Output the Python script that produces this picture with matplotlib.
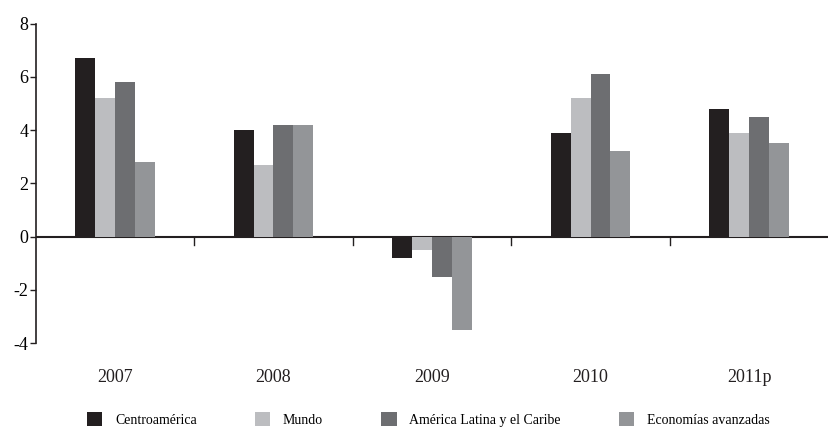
import numpy as np
import matplotlib.pyplot as plt
from matplotlib.patches import Patch

# Datos
anios = ["2007", "2008", "2009", "2010", "2011p"]
centroamerica = [6.7, 4.0, -0.8, 3.9, 4.8]
mundo = [5.2, 2.7, -0.5, 5.2, 3.9]
america_latina = [5.8, 4.2, -1.5, 6.1, 4.5]
economias_avanzadas = [2.8, 4.2, -3.5, 3.2, 3.5]

series = [centroamerica, mundo, america_latina, economias_avanzadas]
nombres = ["Centroamérica", "Mundo", "América Latina y el Caribe", "Economías avanzadas"]
colores = ["#231f20", "#bcbdc0", "#6d6e71", "#939598"]

plt.rcParams['font.family'] = ['Liberation Serif', 'DejaVu Serif']

fig = plt.figure(figsize=(8.3, 4.29), dpi=100)
ax = fig.add_axes([0.043, 0.2, 0.955, 0.745])

x = np.arange(len(anios))
ancho = 0.125
for i, (valores, color) in enumerate(zip(series, colores)):
    ax.bar(x + (i - 1.5) * ancho, valores, ancho, color=color, linewidth=0)

ax.set_xlim(-0.5, len(anios) - 0.5)
ax.set_ylim(-4, 8)
ax.set_yticks([-4, -2, 0, 2, 4, 6, 8])
ax.set_yticklabels(["-4", "-2", "0", "2", "4", "6", "8"], fontsize=13)
ax.tick_params(axis='y', length=4, width=1, pad=1, color="#231f20")

# Linea en cero con marcas entre categorias
ax.axhline(0, color="#231f20", linewidth=1.5, zorder=0)
ax.set_xticks([])
for b in x[:-1] + 0.5:
    ax.plot([b, b], [0, -0.3], color="#231f20", linewidth=1, clip_on=False)

for xi, etiqueta in zip(x, anios):
    ax.text(xi, -5.3, etiqueta, ha='center', va='center', fontsize=13, color="#231f20")

for lado in ['top', 'right', 'bottom']:
    ax.spines[lado].set_visible(False)
ax.spines['left'].set_linewidth(1.2)
ax.spines['left'].set_color("#231f20")

handles = [Patch(facecolor=c, edgecolor='none') for c in colores]
fig.legend(handles, nombres, loc='center', bbox_to_anchor=(0.516, 0.022), ncol=4,
           frameon=False, fontsize=10, handlelength=1.1, handleheight=1.1,
           columnspacing=4.2, handletextpad=0.9)

fig.savefig("out.png", dpi=100)
